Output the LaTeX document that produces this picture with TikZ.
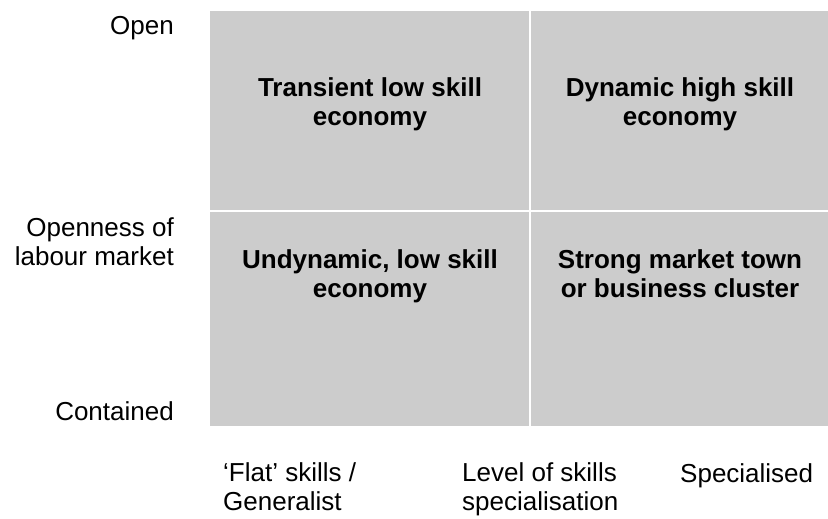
\documentclass[tikz,border=0pt]{standalone}
\usepackage{fontspec}
\setmainfont{Liberation Sans}
\usetikzlibrary{positioning}
\definecolor{quadgrey}{HTML}{CCCCCC}

\begin{document}
\begin{tikzpicture}[x=1pt,y=-1pt,inner sep=0pt,
  quad/.style={fill=quadgrey,draw=none},
  quad label/.style={font=\bfseries\fontsize{26}{29}\selectfont,align=center,anchor=base},
  axis label/.style={font=\fontsize{26}{29}\selectfont}]
   \useasboundingbox (0,0) rectangle (828,519);
   % quadrants
   \fill[quad] (210,11) rectangle (529,210);
   \fill[quad] (531,11) rectangle (828,210);
   \fill[quad] (210,212) rectangle (529,426);
   \fill[quad] (531,212) rectangle (828,426);
   % base of a two-line node sits on its last line
   \node[quad label] (transient) at (370,125.7) {Transient low skill\\economy};
   \node[quad label] (dynamic)   at (680,125.7) {Dynamic high skill\\economy};
   \node[quad label] (undynamic) at (370,297) {Undynamic, low skill\\economy};
   \node[quad label] (strong)    at (680,297) {Strong market town\\or business cluster};
   % vertical axis
   \node[axis label,anchor=base east] (open) at (174,35) {Open};
   \node[axis label,anchor=base east,align=right] (openness) at (174,265) {Openness of\\labour market};
   \node[axis label,anchor=base east] (contained) at (174,420) {Contained};
   % horizontal axis
   \node[axis label,anchor=base west,align=left] (flat) at (223,510) {`Flat' skills /\\Generalist};
   \node[axis label,anchor=base west,align=left] (level) at (462,510) {Level of skills\\specialisation};
   \node[axis label,anchor=base west] (specialised) at (680,482) {Specialised};
\end{tikzpicture}
\end{document}
